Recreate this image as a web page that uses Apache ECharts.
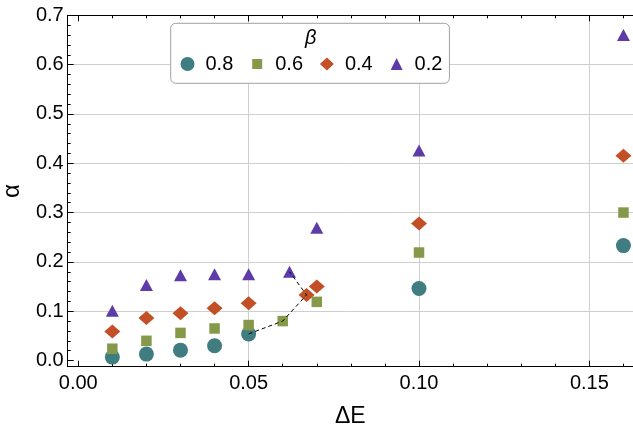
<!DOCTYPE html>
<html>
<head>
<meta charset="utf-8">
<script src="https://cdn.jsdelivr.net/npm/echarts@6/dist/echarts.min.js"></script>
<style>html,body{margin:0;padding:0;background:#fff}#c{width:633px;height:428px}</style>
</head>
<body>
<div id="c"></div>
<script>
// ---- data ----
const seriesNames = ['0.8', '0.6', '0.4', '0.2'];
const x08 = [0.01, 0.02, 0.03, 0.04, 0.05, 0.10, 0.16];
const y08 = [0.007, 0.013, 0.021, 0.030, 0.054, 0.146, 0.233];
const x06 = [0.01, 0.02, 0.03, 0.04, 0.05, 0.06, 0.07, 0.10, 0.16];
const y06 = [0.024, 0.040, 0.056, 0.065, 0.072, 0.080, 0.119, 0.219, 0.300];
const x04 = [0.01, 0.02, 0.03, 0.04, 0.05, 0.067, 0.07, 0.10, 0.16];
const y04 = [0.059, 0.086, 0.096, 0.106, 0.116, 0.133, 0.150, 0.278, 0.415];
const x02 = [0.01, 0.02, 0.03, 0.04, 0.05, 0.062, 0.07, 0.10, 0.16];
const y02 = [0.101, 0.153, 0.173, 0.175, 0.175, 0.180, 0.269, 0.426, 0.660];
const dashX = [0.05, 0.06, 0.067, 0.062];
const dashY = [0.054, 0.080, 0.133, 0.180];
const xTicks = [0, 0.05, 0.10, 0.15];
const xMinorTicks = [0.01, 0.02, 0.03, 0.04, 0.06, 0.07, 0.08, 0.09, 0.11, 0.12, 0.13, 0.14, 0.16];
const yTicks = [0, 0.1, 0.2, 0.3, 0.4, 0.5, 0.6, 0.7];
const yMinorTicks = [0.02, 0.04, 0.06, 0.08, 0.12, 0.14, 0.16, 0.18, 0.22, 0.24, 0.26, 0.28, 0.32, 0.34, 0.36, 0.38,
  0.42, 0.44, 0.46, 0.48, 0.52, 0.54, 0.56, 0.58, 0.62, 0.64, 0.66, 0.68];
const xGridLines = [0.05, 0.10, 0.15];
const yGridLines = [0.1, 0.2, 0.3, 0.4, 0.5, 0.6];

// ---- styling ----
const FONT = '"Liberation Sans", Arial, sans-serif';
const colors = ['#3f7d81', '#86994a', '#c24f26', '#5d3ba9'];
const X_MIN = -0.0031, X_MAX = 0.1628, Y_MIN = -0.0125, Y_MAX = 0.7;

function pairs(xs, ys) { return xs.map((x, i) => [x, ys[i]]); }

function xAxisDef(pos, ticks, len, showLine, labels) {
  return {
    type: 'value', position: pos, min: X_MIN, max: X_MAX, gridIndex: 0,
    axisLine: { show: showLine, onZero: false, lineStyle: { color: '#000', width: 1 } },
    axisTick: { show: true, inside: true, length: len, customValues: ticks, lineStyle: { color: '#000', width: 1 } },
    axisLabel: labels ? {
      show: true, customValues: ticks, margin: 7, color: '#000', fontSize: 20, fontFamily: FONT,
      formatter: v => v.toFixed(2)
    } : { show: false },
    splitLine: { show: false }, minorTick: { show: false }
  };
}
function yAxisDef(ticks, len, showLine, labels) {
  return {
    type: 'value', position: 'left', min: Y_MIN, max: Y_MAX, gridIndex: 0,
    axisLine: { show: showLine, onZero: false, lineStyle: { color: '#000', width: 1 } },
    axisTick: { show: true, inside: true, length: len, customValues: ticks, lineStyle: { color: '#000', width: 1 } },
    axisLabel: labels ? {
      show: true, customValues: ticks, margin: 4, color: '#000', fontSize: 20, fontFamily: FONT,
      formatter: v => v.toFixed(1)
    } : { show: false },
    splitLine: { show: false }, minorTick: { show: false }
  };
}

const xMain = xAxisDef('bottom', xTicks, 6, true, true);
xMain.name = 'ΔE';
xMain.nameLocation = 'middle';
xMain.nameGap = 38;
xMain.nameTextStyle = { fontSize: 23, color: '#000', fontFamily: FONT };
const yMain = yAxisDef(yTicks, 6, true, true);
yMain.name = 'α';
yMain.nameLocation = 'middle';
yMain.nameGap = 43;
yMain.nameTextStyle = { fontSize: 24, color: '#000', fontFamily: FONT };

const symbols = ['circle', 'rect', 'diamond', 'triangle'];
const sizes = [15, 10.5, [16, 14], [13, 12]];
const datas = [pairs(x08, y08), pairs(x06, y06), pairs(x04, y04), pairs(x02, y02)];

const series = [{
  type: 'scatter', name: 'grid', data: [], xAxisIndex: 0, yAxisIndex: 0, z: 0,
  markLine: {
    silent: true, z: 0, symbol: ['none', 'none'], animation: false,
    label: { show: false },
    lineStyle: { type: 'solid', color: '#cfcfcf', width: 1 },
    data: xGridLines.map(v => ({ xAxis: v })).concat(yGridLines.map(v => ({ yAxis: v })))
  }
}];
seriesNames.forEach((n, i) => {
  series.push({
    type: 'scatter', name: n, data: datas[i], xAxisIndex: 0, yAxisIndex: 0,
    symbol: symbols[i], symbolSize: sizes[i], z: 3,
    itemStyle: { color: colors[i], opacity: 1 }
  });
});
series.push({
  type: 'line', name: 'boundary', data: pairs(dashX, dashY), xAxisIndex: 0, yAxisIndex: 0,
  symbol: 'none', z: 6, lineStyle: { color: '#000', width: 1, type: [4, 3] }
});

// legend icons: 26x14 box with the shape centred (corner moves fix the bounding box)
const legendIcons = [
  'path://M0 0M26 14M13 0A7 7 0 1 1 13 14A7 7 0 1 1 13 0Z',
  'path://M0 0M26 14M8 2L18 2L18 12L8 12Z',
  'path://M0 0M26 14M13 0.5L20 7L13 13.5L6 7Z',
  'path://M0 0M26 14M13 1L19 13L7 13Z'
];

const option = {
  animation: false,
  backgroundColor: '#fff',
  grid: { left: 67.7, top: 15.3, right: 0, bottom: 61.3, containLabel: false, outerBoundsMode: 'none' },
  title: {
    text: 'β', left: 305, top: 28, padding: 0,
    textStyle: { fontStyle: 'italic', fontWeight: 'normal', fontSize: 20, color: '#000', fontFamily: FONT }
  },
  legend: {
    left: 170.7, top: 23.3, orient: 'horizontal',
    padding: [30.7, 7, 9.3, 3.8],
    itemWidth: 26, itemHeight: 14, itemGap: 10.9,
    borderColor: '#a0a0a0', borderWidth: 1, borderRadius: 5, backgroundColor: '#fff',
    textStyle: { fontSize: 20, color: '#000', fontFamily: FONT },
    data: seriesNames.map((n, i) => ({ name: n, icon: legendIcons[i] }))
  },
  xAxis: [
    xMain,
    xAxisDef('bottom', xMinorTicks, 3, false, false),
    xAxisDef('top', xTicks, 6, true, false),
    xAxisDef('top', xMinorTicks, 3, false, false)
  ],
  yAxis: [
    yMain,
    yAxisDef(yMinorTicks, 3, false, false)
  ],
  series: series
};

const chart = echarts.init(document.getElementById('c'), null, { renderer: 'canvas' });
chart.setOption(option);
</script>
</body>
</html>
